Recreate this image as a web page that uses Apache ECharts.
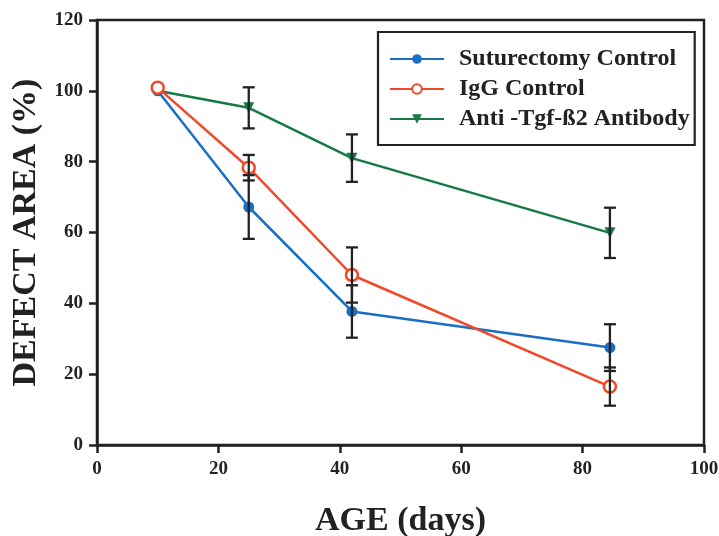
<!DOCTYPE html>
<html><head><meta charset="utf-8">
<script src="https://cdn.jsdelivr.net/npm/echarts@6/dist/echarts.min.js"></script>
<style>html,body{margin:0;padding:0;background:#fff}#c{width:719px;height:536px}</style>
</head><body><div id="c"></div>
<script>
const days = [10, 25, 42, 84.5];
const suturectomy = [100, 67.2, 37.7, 27.5];
const suturectomyErr = [0, 9, 7.4, 6.6];
const igg = [100.9, 78.3, 48, 16.5];
const iggErr = [0, 3.6, 7.8, 5.4];
const antibody = [100, 95.2, 81, 59.9];
const antibodyErr = [0, 5.8, 6.7, 7.1];
const seriesNames = ['Suturectomy Control', 'IgG Control', 'Anti -Tgf-ß2 Antibody'];
const colors = ['#1a6fc4', '#f2482a', '#157a45'];

const font = '"Liberation Serif","Times New Roman",serif';
const chart = echarts.init(document.getElementById('c'));

function pts(vals){ return days.map((d,i)=>[d, vals[i]]); }
function errData(vals, errs){
  const out=[];
  days.forEach((d,i)=>{ if(errs[i]>0) out.push([d, vals[i]-errs[i], vals[i]+errs[i]]); });
  return out;
}
function errSeries(vals, errs){
  return {
    type:'custom', silent:true, z:5,
    data: errData(vals, errs),
    renderItem: function(params, api){
      const lo = api.coord([api.value(0), api.value(1)]);
      const hi = api.coord([api.value(0), api.value(2)]);
      const w = 6;
      const st = {stroke:'#222', lineWidth:2.3, fill:null};
      return {type:'group', children:[
        {type:'line', shape:{x1:lo[0], y1:lo[1], x2:hi[0], y2:hi[1]}, style:st},
        {type:'line', shape:{x1:lo[0]-w, y1:lo[1], x2:lo[0]+w, y2:lo[1]}, style:st},
        {type:'line', shape:{x1:hi[0]-w, y1:hi[1], x2:hi[0]+w, y2:hi[1]}, style:st}
      ]};
    }
  };
}

const option = {
  animation:false,
  backgroundColor:'#fff',
  grid:{left:97, right:15, top:20, bottom:91, show:true, borderColor:'#222', borderWidth:2.5, backgroundColor:'transparent', outerBoundsMode:'none', containLabel:false},
  legend:{
    left:378, top:32, orient:'vertical',
    borderColor:'#222', borderWidth:2.2, padding:[15,5,14,11],
    itemWidth:54, itemHeight:12, itemGap:6,
    textStyle:{fontFamily:font, fontWeight:'bold', fontSize:24, lineHeight:24, color:'#222', padding:[0,0,0,10]},
    data: seriesNames
  },
  xAxis:{
    type:'value', min:0, max:100, interval:20,
    name:'AGE (days)', nameLocation:'middle', nameGap:59,
    nameTextStyle:{fontFamily:font, fontWeight:'bold', fontSize:34, color:'#222'},
    axisLine:{lineStyle:{color:'#222', width:2.5}},
    axisTick:{show:true, length:8, lineStyle:{color:'#222', width:2.5}},
    axisLabel:{fontFamily:font, fontWeight:'bold', fontSize:19, color:'#222', margin:15},
    splitLine:{show:false}
  },
  yAxis:{
    type:'value', min:0, max:120, interval:20,
    name:'DEFECT AREA (%)', nameLocation:'middle', nameGap:50,
    nameTextStyle:{fontFamily:font, fontWeight:'bold', fontSize:34, color:'#222'},
    axisLine:{lineStyle:{color:'#222', width:2.5}},
    axisTick:{show:true, length:8, lineStyle:{color:'#222', width:2.5}},
    axisLabel:{fontFamily:font, fontWeight:'bold', fontSize:19, color:'#222', margin:14},
    splitLine:{show:false}
  },
  series:[
    {name:seriesNames[0], type:'line', data:pts(suturectomy), symbol:'circle', symbolSize:11,
     lineStyle:{color:colors[0], width:2.5}, itemStyle:{color:colors[0]}, z:3},
    {name:seriesNames[1], type:'line', data:pts(igg), symbol:'circle', symbolSize:12,
     lineStyle:{color:colors[1], width:2.5}, itemStyle:{color:'#fff', borderColor:colors[1], borderWidth:2.5}, z:4},
    {name:seriesNames[2], type:'line', data:pts(antibody), symbol:'triangle', symbolRotate:180, symbolSize:11,
     lineStyle:{color:colors[2], width:2.5}, itemStyle:{color:colors[2]}, z:3},
    errSeries(suturectomy, suturectomyErr),
    errSeries(igg, iggErr),
    errSeries(antibody, antibodyErr)
  ]
};
chart.setOption(option);
</script>
</body></html>
